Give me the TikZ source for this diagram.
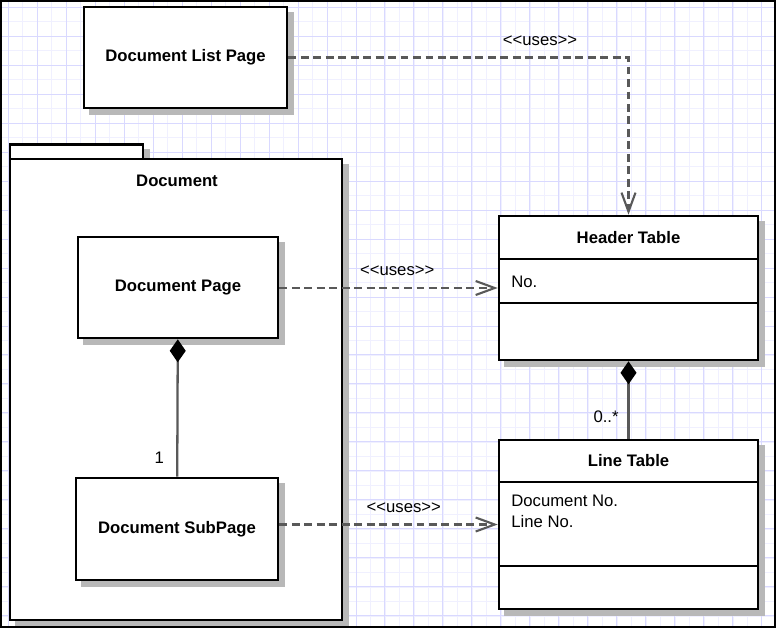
\documentclass[tikz,border=0pt]{standalone}
\usepackage{fontspec}
\setmainfont{Liberation Sans}
\usetikzlibrary{arrows.meta}
\pgfdeclarelayer{paper}
\pgfdeclarelayer{pkglayer}
\pgfdeclarelayer{shade}
\pgfsetlayers{paper,pkglayer,shade,main}

\begin{document}
\begin{tikzpicture}
  [x=0.02cm,y=-0.02cm,
   every node/.style={font=\fontsize{9.5}{11.5}\selectfont},
   box/.style={draw,line width=1.5pt,fill=white,inner sep=0pt},
   title/.style={font=\bfseries\fontsize{9.5}{11.5}\selectfont},
   shadowbox/.style={fill=black!28},
   conn/.style={draw=black!65,line width=1.3pt},
   uses/.style={conn,dash pattern=on 4.5pt off 2.6pt,
     -{Straight Barb[length=0.38cm,width=0.28cm,line width=1.2pt]}},
   owns/.style={conn,{Diamond[length=0.46cm,width=0.32cm,color=black]}-}]

  \useasboundingbox (0,0) rectangle (776,628);

  % package
  \begin{pgfonlayer}{pkglayer}
    \node[box,minimum width=2.66cm,minimum height=0.34cm] (tab) at (76.5,153) {};
    \node[box,minimum width=6.64cm,minimum height=9.22cm] (pkg) at (176,389.5) {};
  \end{pgfonlayer}
  \node[title] (pkgname) at (177,181) {Document};

  \node[box,title,minimum width=4.06cm,minimum height=2.02cm] (lp) at (185.5,57.5) {Document List Page};
  \node[box,title,minimum width=4cm,minimum height=2.02cm] (dp) at (178,287.5) {Document Page};
  \node[box,title,minimum width=4.04cm,minimum height=2.04cm] (sp) at (177,529) {Document SubPage};

  % classes
  \node[box,minimum width=5.18cm,minimum height=2.88cm] (hdr) at (628.5,288) {};
  \draw[line width=1.5pt] (499,259) -- (758,259) (499,303) -- (758,303);
  \node[title] (hdrname) at (628.5,238) {Header Table};
  \node[anchor=west,inner sep=0pt] (hdrno) at (511,282) {No.};

  \node[box,minimum width=5.18cm,minimum height=3.38cm] (ln) at (628.5,524.5) {};
  \draw[line width=1.5pt] (499,482) -- (758,482) (499,566) -- (758,566);
  \node[title] (lnname) at (628.5,461) {Line Table};
  \node[anchor=north west,align=left,inner sep=0pt] (lnattr) at (511,495)
    {Document No.\\Line No.};

  % connectors
  \draw[uses] (lp.east) -| node[pos=0.37,above=3pt] {<{}<uses>{}>} (hdr.north);
  \foreach \from/\to/\p in {dp/hdr/0.54, sp/ln/0.57}
    \draw[uses] (\from.east |- \to) -- node[pos=\p,above=3pt] {<{}<uses>{}>} (\to);

  \draw[owns] (dp) -- node[pos=0.86,left=7pt,inner sep=0pt] {1} (sp);
  \draw[owns] (hdr) -- node[pos=0.71,left=5pt,inner sep=0pt] {0..*} (ln);

  % grid and shadows
  \begin{pgfonlayer}{paper}
    \fill[white] (0,0) rectangle (776,628);
    \draw[blue!6,line width=0.4pt,shift={(8,7)},step=0.29cm] (-8,-7) grid (768,621);
    \draw[blue!15,line width=0.5pt,shift={(8,7)},step=0.58cm] (-8,-7) grid (768,621);
    \foreach \n in {tab,pkg,lp,hdr,ln}
      \fill[shadowbox] ([shift={(6,6)}]\n.north west) rectangle ([shift={(6,6)}]\n.south east);
  \end{pgfonlayer}
  \begin{pgfonlayer}{shade}
    \foreach \n in {dp,sp}
      \fill[shadowbox] ([shift={(6,6)}]\n.north west) rectangle ([shift={(6,6)}]\n.south east);
  \end{pgfonlayer}
  \draw[line width=1.2pt] (1,1) rectangle (775,627);

\end{tikzpicture}
\end{document}
